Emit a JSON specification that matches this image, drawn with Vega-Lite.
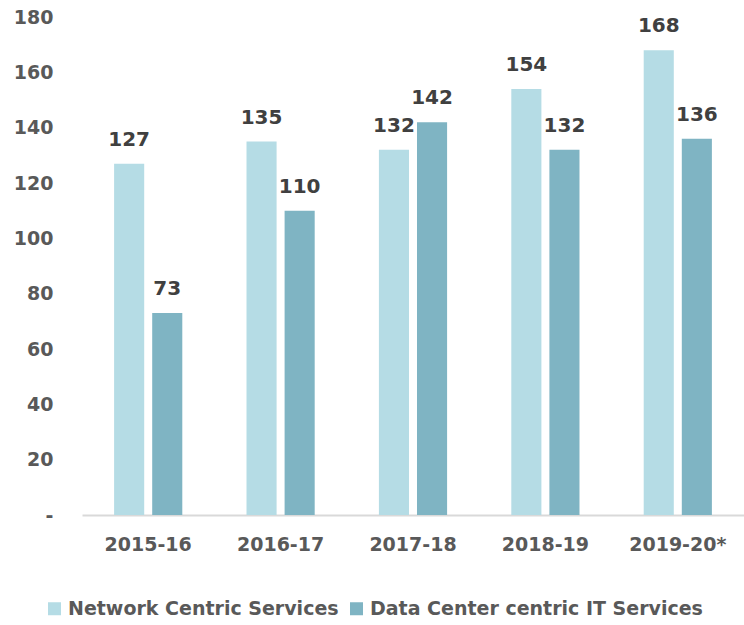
{
  "$schema": "https://vega.github.io/schema/vega-lite/v6.json",
  "width": 662,
  "height": 498,
  "autosize": {"type": "none"},
  "padding": {"left": 82, "top": 17, "right": 0, "bottom": 110},
  "background": "white",
  "config": {
    "view": {"stroke": null},
    "font": "DejaVu Sans"
  },
  "data": {
    "values": [
      {"year": "2015-16", "series": "Network Centric Services", "value": 127},
      {"year": "2015-16", "series": "Data Center centric IT Services", "value": 73},
      {"year": "2016-17", "series": "Network Centric Services", "value": 135},
      {"year": "2016-17", "series": "Data Center centric IT Services", "value": 110},
      {"year": "2017-18", "series": "Network Centric Services", "value": 132},
      {"year": "2017-18", "series": "Data Center centric IT Services", "value": 142},
      {"year": "2018-19", "series": "Network Centric Services", "value": 154},
      {"year": "2018-19", "series": "Data Center centric IT Services", "value": 132},
      {"year": "2019-20*", "series": "Network Centric Services", "value": 168},
      {"year": "2019-20*", "series": "Data Center centric IT Services", "value": 136}
    ]
  },
  "encoding": {
    "x": {
      "field": "year", "type": "nominal", "sort": null,
      "scale": {"paddingInner": 0.485, "paddingOuter": 0.2425},
      "axis": {
        "title": null, "labelAngle": 0, "ticks": false,
        "domainColor": "#D9D9D9", "domainWidth": 2,
        "labelFont": "DejaVu Sans", "labelFontWeight": "bold", "labelFontSize": 19,
        "labelColor": "#595959", "labelPadding": 20
      }
    },
    "xOffset": {
      "field": "series", "type": "nominal",
      "sort": ["Network Centric Services", "Data Center centric IT Services"],
      "scale": {"paddingInner": 0.21, "paddingOuter": 0}
    },
    "y": {
      "field": "value", "type": "quantitative",
      "scale": {"domain": [0, 180], "nice": false},
      "axis": {
        "title": null, "values": [0, 20, 40, 60, 80, 100, 120, 140, 160, 180],
        "labelExpr": "datum.value == 0 ? '-' : datum.label",
        "grid": false, "domain": false, "ticks": false,
        "labelFont": "DejaVu Sans", "labelFontWeight": "bold", "labelFontSize": 19,
        "labelColor": "#595959", "labelPadding": 29
      }
    }
  },
  "layer": [
    {
      "mark": {"type": "bar"},
      "encoding": {
        "color": {
          "field": "series", "type": "nominal",
          "sort": ["Network Centric Services", "Data Center centric IT Services"],
          "scale": {
            "domain": ["Network Centric Services", "Data Center centric IT Services"],
            "range": ["#B5DCE5", "#7FB4C3"]
          },
          "legend": {
            "title": null, "orient": "none", "direction": "horizontal",
            "legendX": -37, "legendY": 582,
            "symbolType": "square", "symbolSize": 169, "symbolStrokeWidth": 0,
            "labelFont": "DejaVu Sans", "labelFontWeight": "bold", "labelFontSize": 19,
            "labelColor": "#595959", "labelOffset": 4, "columnPadding": 8,
            "labelLimit": 400
          }
        }
      }
    },
    {
      "mark": {
        "type": "text", "baseline": "bottom", "dy": -14,
        "font": "DejaVu Sans", "fontWeight": "bold", "fontSize": 20, "color": "#404040"
      },
      "encoding": {
        "text": {"field": "value", "type": "quantitative"}
      }
    }
  ]
}
